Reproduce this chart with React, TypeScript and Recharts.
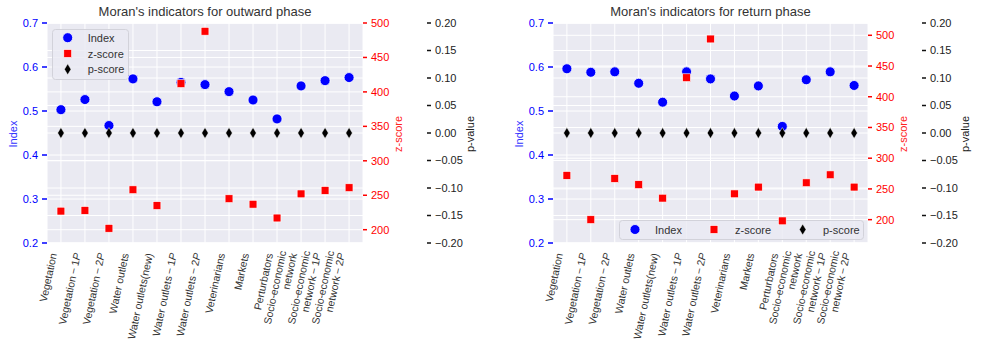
import React from "react";
import { ScatterChart, Scatter, XAxis, YAxis, CartesianGrid } from "recharts";

const categories = [
  "Vegetation",
  "Vegetation-1P",
  "Vegetation-2P",
  "Water outlets",
  "Water outlets(new)",
  "Water outlets-1P",
  "Water outlets-2P",
  "Veterinarians",
  "Markets",
  "Perturbators",
  "Socio-economic\nnetwork",
  "Socio-economic\nnetwork-1P",
  "Socio-economic\nnetwork-2P",
];

const outwardIndex = [0.503, 0.526, 0.467, 0.573, 0.521, 0.565, 0.56, 0.544, 0.525, 0.482, 0.557, 0.569, 0.576];
const outwardZ = [227, 228, 202, 258, 235, 412, 488, 245, 237, 217, 252, 257, 261];
const outwardP = [0, 0, 0, 0, 0, 0, 0, 0, 0, 0, 0, 0, 0];

const returnIndex = [0.596, 0.588, 0.589, 0.563, 0.52, 0.589, 0.573, 0.534, 0.557, 0.465, 0.571, 0.589, 0.558];
const returnZ = [272, 200, 267, 257, 235, 431, 494, 242, 253, 198, 260, 273, 253];
const returnP = [0, 0, 0, 0, 0, 0, 0, 0, 0, 0, 0, 0, 0];

const indexTicks = [0.2, 0.3, 0.4, 0.5, 0.6, 0.7];
const zTicks = [200, 250, 300, 350, 400, 450, 500];
const pTicks = [-0.2, -0.15, -0.1, -0.05, 0, 0.05, 0.1, 0.15, 0.2];
const xTicks = categories.map((_, i) => i);

const FONT = '"Liberation Sans", Arial, sans-serif';
const BLUE = "#0000ff";
const RED = "#ff0000";
const BG = "#eaeaf2";

const makeRows = (index: number[], z: number[], p: number[]) =>
  categories.map((name, i) => ({ x: i, name, index: index[i], z: z[i], p: p[i] }));

const DotShape = (props: any) => (
  <circle cx={props.cx} cy={props.cy} r={5} fill={BLUE} stroke="#fff" strokeWidth={0.8} />
);
const SquareShape = (props: any) => (
  <rect x={props.cx - 3.9} y={props.cy - 3.9} width={7.8} height={7.8} fill={RED} stroke="#fff" strokeWidth={0.6} />
);
const DiamondShape = (props: any) => {
  const { cx, cy } = props;
  return (
    <polygon
      points={`${cx},${cy - 5.5} ${cx + 3.3},${cy} ${cx},${cy + 5.5} ${cx - 3.3},${cy}`}
      fill="#000"
      stroke="#fff"
      strokeWidth={0.5}
    />
  );
};

function lineParts(line: string) {
  const m = line.match(/^(.*)-(\d)P$/);
  if (!m) return line;
  return (
    <>
      {m[1]}{"\u2009−\u2009"}{m[2]}
      <tspan fontStyle="italic">P</tspan>
    </>
  );
}

function XTick({ x, y, payload }: any) {
  const lines = categories[payload.value].split("\n");
  const lh = 11;
  return (
    <g transform={`translate(${x - 4},${y + 11}) rotate(-78)`}>
      <text textAnchor="end" fontSize={10.5} fill="#333" fontFamily={FONT}>
        {lines.map((ln, k) => (
          <tspan key={k} x={0} y={(k - (lines.length - 1)) * lh}>
            {lineParts(ln)}
          </tspan>
        ))}
      </text>
    </g>
  );
}

const fmtP = (v: number) => (v < 0 ? "−" + Math.abs(v).toFixed(2) : v.toFixed(2));

const legendItems = [
  { kind: "dot", label: "Index" },
  { kind: "sq", label: "z-score" },
  { kind: "dia", label: "p-score" },
];

function Marker({ kind, cx, cy }: any) {
  if (kind === "dot") return <DotShape cx={cx} cy={cy} />;
  if (kind === "sq") return <SquareShape cx={cx} cy={cy} />;
  return <DiamondShape cx={cx} cy={cy} />;
}

function LegendSvg({ variant }: { variant: string }) {
  const box =
    variant === "box"
      ? { x: 52, y: 29, w: 76, h: 50 }
      : { x: 127, y: 220, w: 244, h: 19 };
  const pos =
    variant === "box"
      ? legendItems.map((_, k) => ({ mx: 67.7, tx: 87.7, cy: 37.7 + k * 15.8 }))
      : [
          { mx: 143, tx: 163, cy: 229.5 },
          { mx: 222, tx: 243, cy: 229.5 },
          { mx: 310.7, tx: 331, cy: 229.5 },
        ];
  return (
    <g>
      <rect x={box.x + 0.5} y={box.y + 0.5} width={box.w} height={box.h} rx={3} fill={BG} fillOpacity={0.8} stroke="#d2d2da" />
      {legendItems.map((it, k) => (
        <g key={it.label}>
          <Marker kind={it.kind} cx={pos[k].mx} cy={pos[k].cy} />
          <text x={pos[k].tx} y={pos[k].cy + 4} fontSize={11} fill="#333" fontFamily={FONT}>
            {it.label}
          </text>
        </g>
      ))}
    </g>
  );
}

function VLabel({ cx, cy, color, text }: any) {
  return (
    <div
      style={{
        position: "absolute",
        left: cx,
        top: cy,
        transform: "translate(-50%,-50%) rotate(-90deg)",
        color,
        fontSize: 11,
        whiteSpace: "nowrap",
      }}
    >
      {text}
    </div>
  );
}

function Panel(props: any) {
  const { rows, zDomain, idxW, zW, pW, title, titleX, labels, legend } = props;
  return (
    <div style={{ position: "relative", width: 492, height: 344 }}>
      <ScatterChart width={492} height={344} margin={{ top: 23, right: 0, bottom: 0, left: 0 }}>
        <CartesianGrid xAxisId="x" yAxisId="a_idx" stroke="#fff" strokeWidth={1} fill={BG} fillOpacity={1} />
        <Scatter xAxisId="x" yAxisId="a_idx" data={rows} dataKey="index" shape={DotShape} isAnimationActive={false} />
        <LegendSvg variant={legend} />
        <CartesianGrid xAxisId="x" yAxisId="b_z" stroke="#fff" strokeWidth={1} vertical={false} />
        <CartesianGrid xAxisId="x" yAxisId="c_p" stroke="#fff" strokeWidth={1} vertical={false} />
        <XAxis
          xAxisId="x"
          type="number"
          dataKey="x"
          domain={[-0.58, 12.58]}
          ticks={xTicks}
          interval={0}
          height={101}
          axisLine={false}
          tickLine={false}
          tickSize={0}
          tickMargin={0}
          tick={<XTick />}
          allowDataOverflow
        />
        <YAxis
          yAxisId="a_idx"
          dataKey="index"
          type="number"
          domain={[0.2, 0.7]}
          ticks={indexTicks}
          width={idxW}
          axisLine={false}
          tickLine={{ stroke: BLUE, strokeWidth: 1.5 }}
          tickSize={5}
          tickMargin={4}
          tick={{ fill: BLUE, fontSize: 11, fontFamily: FONT }}
          tickFormatter={(v: number) => v.toFixed(1)}
          allowDataOverflow
        />
        <YAxis
          yAxisId="b_z"
          orientation="right"
          dataKey="z"
          type="number"
          domain={zDomain}
          ticks={zTicks}
          width={zW}
          axisLine={false}
          tickLine={{ stroke: RED, strokeWidth: 1.5 }}
          tickSize={4}
          tickMargin={4}
          tick={{ fill: RED, fontSize: 11, fontFamily: FONT }}
          allowDataOverflow
        />
        <YAxis
          yAxisId="c_p"
          orientation="right"
          dataKey="p"
          type="number"
          domain={[-0.2, 0.2]}
          ticks={pTicks}
          width={pW}
          axisLine={false}
          tickLine={{ stroke: "#111", strokeWidth: 1.5 }}
          tickSize={4}
          tickMargin={4}
          tick={{ fill: "#222", fontSize: 11, fontFamily: FONT }}
          tickFormatter={fmtP}
          allowDataOverflow
        />
        <Scatter xAxisId="x" yAxisId="b_z" data={rows} dataKey="z" shape={SquareShape} isAnimationActive={false} />
        <Scatter xAxisId="x" yAxisId="c_p" data={rows} dataKey="p" shape={DiamondShape} isAnimationActive={false} />
      </ScatterChart>

      <div
        style={{
          position: "absolute",
          left: titleX,
          top: 4,
          transform: "translateX(-50%)",
          fontSize: 13,
          color: "#333",
          whiteSpace: "nowrap",
        }}
      >
        {title}
      </div>
      <VLabel cx={labels[0]} cy={134} color="#3030ff" text="Index" />
      <VLabel cx={labels[1]} cy={134} color="#ff2020" text="z-score" />
      <VLabel cx={labels[2]} cy={134} color="#222" text="p-value" />
    </div>
  );
}

export default function App() {
  const outwardRows = makeRows(outwardIndex, outwardZ, outwardP);
  const returnRows = makeRows(returnIndex, returnZ, returnP);
  return (
    <div
      style={{
        position: "absolute",
        left: 0,
        top: 0,
        width: 984,
        height: 344,
        background: "#fff",
        fontFamily: FONT,
        overflow: "hidden",
      }}
    >
      <div style={{ position: "absolute", left: 0, top: 0 }}>
        <Panel
          rows={outwardRows}
          zDomain={[180.7, 500]}
          idxW={47}
          zW={64}
          pW={65}
          title="Moran's indicators for outward phase"
          titleX={205}
          labels={[13, 398, 470]}
          legend="box"
        />
      </div>
      <div style={{ position: "absolute", left: 492, top: 0 }}>
        <Panel
          rows={returnRows}
          zDomain={[162, 520]}
          idxW={61}
          zW={54}
          pW={62}
          title="Moran's indicators for return phase"
          titleX={218.5}
          labels={[27, 411, 473]}
          legend="row"
        />
      </div>
    </div>
  );
}
